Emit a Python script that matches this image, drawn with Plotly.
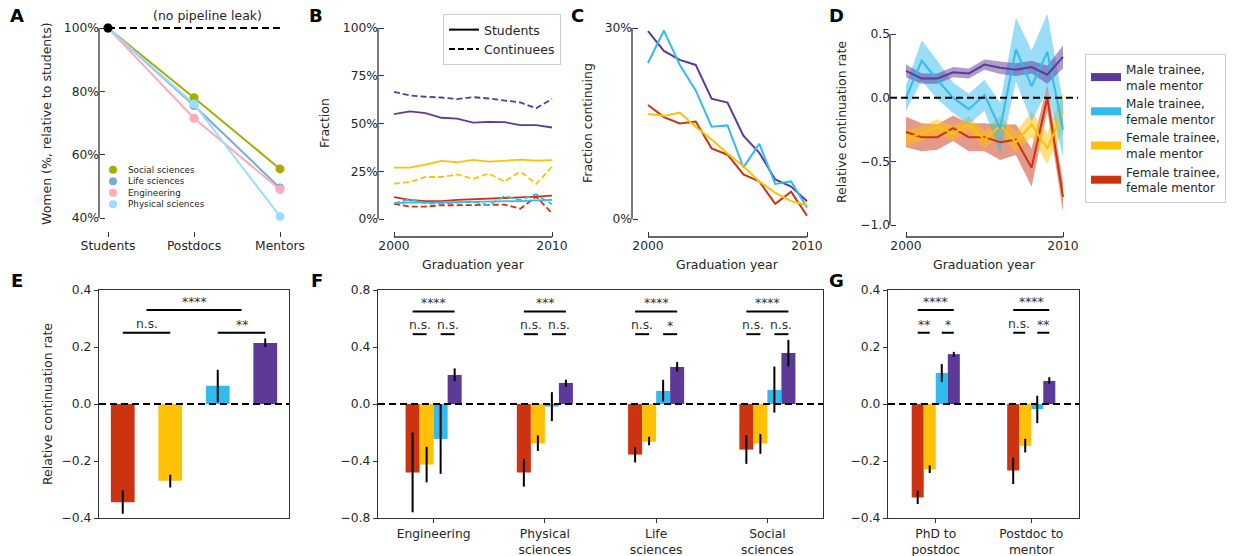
import plotly.graph_objects as go

W, H = 1233, 556
FONT = "DejaVu Sans"
TXT = "#262626"
SPINE = "#333333"
PURPLE, BLUE, YELLOW, RED = "#5e3a98", "#33bbee", "#ffc107", "#cc3311"
BAND = {PURPLE: "rgba(94,58,152,0.5)", BLUE: "rgba(51,187,238,0.5)",
        YELLOW: "rgba(255,193,7,0.5)", RED: "rgba(204,51,17,0.5)"}

# ---------------- Panel A data ----------------
stages = ["Students", "Postdocs", "Mentors"]
fields = ["Social sciences", "Life sciences", "Engineering", "Physical sciences"]
field_colors = ["#aaaa00", "#77aadd", "#ffaabb", "#99ddff"]
women_social = [100.0, 78.0, 55.5]
women_life = [100.0, 75.5, 49.5]
women_engineering = [100.0, 71.5, 49.0]
women_physical = [100.0, 76.0, 40.5]

# ---------------- Panel B data ----------------
years = [2000, 2001, 2002, 2003, 2004, 2005, 2006, 2007, 2008, 2009, 2010]
students_mm = [54.9, 56.3, 55.4, 53.0, 52.6, 50.5, 50.9, 50.7, 49.1, 49.1, 47.9]
continuees_mm = [66.6, 64.7, 64.0, 63.6, 62.8, 63.8, 63.1, 62.1, 61.0, 58.0, 62.8]
students_fm = [26.9, 26.9, 28.5, 30.4, 29.7, 31.0, 30.0, 30.4, 31.1, 30.6, 30.8]
continuees_fm = [18.5, 19.4, 22.0, 22.0, 23.4, 21.0, 23.8, 19.6, 24.8, 18.4, 27.4]
students_ff = [11.4, 10.0, 9.3, 9.4, 10.0, 10.3, 10.7, 10.8, 11.4, 11.7, 12.2]
continuees_ff = [7.9, 6.5, 6.5, 7.2, 7.2, 7.2, 7.2, 7.5, 5.4, 11.7, 3.0]
students_mf = [8.2, 8.7, 8.6, 8.7, 8.9, 9.1, 9.3, 9.3, 9.4, 9.8, 10.0]
continuees_mf = [8.2, 10.3, 8.2, 8.2, 8.6, 9.1, 7.3, 12.0, 10.0, 13.0, 7.7]

# ---------------- Panel C data ----------------
continuing_mm = [29.5, 26.4, 25.0, 24.2, 18.9, 18.3, 13.1, 10.4, 6.2, 5.1, 2.8]
continuing_mf = [24.5, 29.6, 24.2, 20.2, 14.5, 14.7, 8.1, 11.8, 5.5, 5.9, 1.8]
continuing_fm = [16.5, 16.2, 16.7, 14.5, 12.5, 10.3, 8.3, 5.9, 4.1, 2.8, 2.2]
continuing_ff = [17.9, 16.0, 15.0, 15.3, 11.1, 10.1, 7.0, 5.9, 2.4, 4.3, 0.5]

# ---------------- Panel D data ----------------
rel_mm = [0.21, 0.15, 0.15, 0.20, 0.19, 0.26, 0.235, 0.22, 0.24, 0.18, 0.32]
rel_mm_hw = [0.05, 0.04, 0.04, 0.04, 0.04, 0.04, 0.05, 0.05, 0.05, 0.07, 0.09]
rel_mf = [0.0, 0.29, 0.14, 0.0, -0.09, 0.02, -0.24, 0.38, 0.09, 0.36, -0.25]
rel_mf_hw = [0.10, 0.16, 0.15, 0.12, 0.12, 0.12, 0.20, 0.25, 0.28, 0.30, 0.22]
rel_fm = [-0.32, -0.28, -0.23, -0.28, -0.21, -0.33, -0.22, -0.35, -0.21, -0.40, -0.11]
rel_fm_hw = [0.06, 0.06, 0.06, 0.06, 0.06, 0.07, 0.08, 0.08, 0.10, 0.12, 0.15]
rel_ff = [-0.27, -0.31, -0.31, -0.24, -0.31, -0.31, -0.35, -0.33, -0.55, 0.0, -0.78]
rel_ff_hw = [0.12, 0.11, 0.10, 0.10, 0.11, 0.11, 0.14, 0.12, 0.15, 0.10, 0.12]
group_names = ["Male trainee,<br>male mentor", "Male trainee,<br>female mentor",
               "Female trainee,<br>male mentor", "Female trainee,<br>female mentor"]

# ---------------- Panel E data (FF, FM, MF, MM) ----------------
bar_colors = [RED, YELLOW, BLUE, PURPLE]
overall_val = [-0.345, -0.269, 0.064, 0.214]
overall_lo = [-0.385, -0.293, 0.006, 0.200]
overall_hi = [-0.303, -0.248, 0.120, 0.230]

# ---------------- Panel F data ----------------
disciplines = ["Engineering", "Physical<br>sciences", "Life<br>sciences", "Social<br>sciences"]
disc_ff = [-0.48, -0.48, -0.355, -0.32]
disc_ff_lo = [-0.76, -0.58, -0.41, -0.42]
disc_ff_hi = [-0.20, -0.385, -0.305, -0.22]
disc_fm = [-0.425, -0.277, -0.265, -0.277]
disc_fm_lo = [-0.55, -0.33, -0.29, -0.35]
disc_fm_hi = [-0.30, -0.22, -0.23, -0.21]
disc_mf = [-0.245, -0.018, 0.092, 0.099]
disc_mf_lo = [-0.49, -0.12, 0.018, -0.06]
disc_mf_hi = [0.0, 0.083, 0.17, 0.263]
disc_mm = [0.204, 0.148, 0.26, 0.358]
disc_mm_lo = [0.16, 0.12, 0.228, 0.263]
disc_mm_hi = [0.25, 0.17, 0.295, 0.45]
disc_sig_top = ["****", "***", "****", "****"]
disc_sig_left = ["n.s.", "n.s.", "n.s.", "n.s."]
disc_sig_right = ["n.s.", "n.s.", "*", "n.s."]

# ---------------- Panel G data ----------------
transitions = ["PhD to<br>postdoc", "Postdoc to<br>mentor"]
tr_ff = [-0.328, -0.233]
tr_ff_lo = [-0.351, -0.281]
tr_ff_hi = [-0.304, -0.189]
tr_fm = [-0.23, -0.147]
tr_fm_lo = [-0.242, -0.17]
tr_fm_hi = [-0.215, -0.122]
tr_mf = [0.109, -0.018]
tr_mf_lo = [0.077, -0.067]
tr_mf_hi = [0.14, 0.029]
tr_mm = [0.175, 0.081]
tr_mm_lo = [0.166, 0.071]
tr_mm_hi = [0.183, 0.094]
tr_sig_top = ["****", "****"]
tr_sig_left = ["**", "n.s."]
tr_sig_right = ["*", "**"]


# ---------------- helpers ----------------
def dom_x(a, b):
    return [a / W, b / W]


def dom_y(top, bottom):
    return [1 - bottom / H, 1 - top / H]


def lin_range(v1, p1, v2, p2, lo, hi):
    k = (v2 - v1) / (p2 - p1)
    return [v1 + (lo - p1) * k, v1 + (hi - p1) * k]


fig = go.Figure()
shapes = []
annotations = []
TICKFONT = dict(family=FONT, size=12.3, color=TXT)


def ann(x, y, text, size=12.5, angle=0, bold=False, xanchor="center", color=TXT, **kw):
    t = f"<b>{text}</b>" if bold else text
    annotations.append(dict(x=x / W, y=1 - y / H, xref="paper", yref="paper", text=t,
                            showarrow=False, textangle=angle, xanchor=xanchor, yanchor="middle",
                            font=dict(family=FONT, size=size, color=color), **kw))


# ---------------- Panel A ----------------
for name, col, vals in zip(fields, field_colors,
                           [women_social, women_life, women_engineering, women_physical]):
    fig.add_trace(go.Scatter(x=[0, 1, 2], y=vals, mode="lines+markers", name=name,
                             line=dict(color=col, width=2), marker=dict(color=col, size=9),
                             xaxis="x", yaxis="y", showlegend=False, cliponaxis=False))
fig.add_trace(go.Scatter(x=[0, 2], y=[100, 100], mode="lines", showlegend=False,
                         line=dict(color="black", width=2, dash="7px,4px"), xaxis="x", yaxis="y"))
fig.add_trace(go.Scatter(x=[0], y=[100], mode="markers", showlegend=False,
                         marker=dict(color="black", size=9), xaxis="x", yaxis="y", cliponaxis=False))

# ---------------- Panel B ----------------
b_series = [(students_mm, continuees_mm, PURPLE), (students_fm, continuees_fm, YELLOW),
            (students_ff, continuees_ff, RED), (students_mf, continuees_mf, BLUE)]
for s, c, col in b_series:
    fig.add_trace(go.Scatter(x=years, y=s, mode="lines", line=dict(color=col, width=1.8),
                             xaxis="x2", yaxis="y2", showlegend=False))
    fig.add_trace(go.Scatter(x=years, y=c, mode="lines", line=dict(color=col, width=1.8, dash="6px,3px"),
                             xaxis="x2", yaxis="y2", showlegend=False))
fig.add_trace(go.Scatter(x=[None], y=[None], mode="lines", name="Students",
                         line=dict(color="black", width=2), xaxis="x2", yaxis="y2",
                         showlegend=True, legend="legend"))
fig.add_trace(go.Scatter(x=[None], y=[None], mode="lines", name="Continuees",
                         line=dict(color="black", width=2, dash="6px,3px"), xaxis="x2", yaxis="y2",
                         showlegend=True, legend="legend"))

# ---------------- Panel C ----------------
for vals, col in [(continuing_mm, PURPLE), (continuing_mf, BLUE), (continuing_ff, RED), (continuing_fm, YELLOW)]:
    fig.add_trace(go.Scatter(x=years, y=vals, mode="lines", line=dict(color=col, width=2),
                             xaxis="x3", yaxis="y3", showlegend=False))

# ---------------- Panel D ----------------
d_series = [(rel_ff, rel_ff_hw, RED), (rel_fm, rel_fm_hw, YELLOW),
            (rel_mf, rel_mf_hw, BLUE), (rel_mm, rel_mm_hw, PURPLE)]
for vals, hw, col in d_series:
    upper = [v + h for v, h in zip(vals, hw)]
    lower = [v - h for v, h in zip(vals, hw)]
    fig.add_trace(go.Scatter(x=years + years[::-1], y=upper + lower[::-1], mode="lines",
                             fill="toself", fillcolor=BAND[col], line=dict(width=0),
                             xaxis="x4", yaxis="y4", showlegend=False, hoverinfo="skip"))
for vals, hw, col in d_series:
    fig.add_trace(go.Scatter(x=years, y=vals, mode="lines", line=dict(color=col, width=2),
                             xaxis="x4", yaxis="y4", showlegend=False))
for name, col in zip(group_names, [PURPLE, BLUE, YELLOW, RED]):
    fig.add_trace(go.Scatter(x=[None], y=[None], mode="lines", name=name,
                             line=dict(color=col, width=8), xaxis="x4", yaxis="y4",
                             showlegend=True, legend="legend2"))

# ---------------- Panel E ----------------
fig.add_trace(go.Bar(x=[0, 1, 2, 3], y=overall_val, width=0.5, marker=dict(color=bar_colors, line=dict(width=0)),
                     error_y=dict(type="data", symmetric=False,
                                  array=[h - v for h, v in zip(overall_hi, overall_val)],
                                  arrayminus=[v - l for v, l in zip(overall_val, overall_lo)],
                                  color="black", thickness=2, width=0),
                     xaxis="x5", yaxis="y5", showlegend=False))

BW = 0.126


def grouped(xa, ya, series):
    n = len(series[0][0])
    for i, (vals, lo, hi, col) in enumerate(series):
        fig.add_trace(go.Bar(x=list(range(n)), y=vals, width=BW, offset=-2 * BW + i * BW,
                             marker=dict(color=col, line=dict(width=0)),
                             error_y=dict(type="data", symmetric=False,
                                          array=[h - v for h, v in zip(hi, vals)],
                                          arrayminus=[v - l for v, l in zip(vals, lo)],
                                          color="black", thickness=2, width=0),
                             xaxis=xa, yaxis=ya, showlegend=False))


grouped("x6", "y6", [(disc_ff, disc_ff_lo, disc_ff_hi, RED), (disc_fm, disc_fm_lo, disc_fm_hi, YELLOW),
                     (disc_mf, disc_mf_lo, disc_mf_hi, BLUE), (disc_mm, disc_mm_lo, disc_mm_hi, PURPLE)])
grouped("x7", "y7", [(tr_ff, tr_ff_lo, tr_ff_hi, RED), (tr_fm, tr_fm_lo, tr_fm_hi, YELLOW),
                     (tr_mf, tr_mf_lo, tr_mf_hi, BLUE), (tr_mm, tr_mm_lo, tr_mm_hi, PURPLE)])


# ---------------- significance brackets ----------------
def bracket(xa, ya, x0, x1, y, label):
    shapes.append(dict(type="line", xref=xa, yref=ya, x0=x0, x1=x1, y0=y, y1=y,
                       line=dict(color="black", width=2), layer="above"))
    shift = 9 if "n" in label else 8
    annotations.append(dict(x=(x0 + x1) / 2, y=y, xref=xa, yref=ya, text=label, showarrow=False,
                            yshift=shift, yanchor="middle",
                            font=dict(family=FONT, size=12.3, color="#333333")))


bracket("x5", "y5", 0.5, 2.5, 0.33, "****")
bracket("x5", "y5", 0, 1, 0.25, "n.s.")
bracket("x5", "y5", 2, 3, 0.25, "**")
for g in range(4):
    c = [g + (i - 1.5) * BW for i in range(4)]
    bracket("x6", "y6", c[0], c[3], 0.65, disc_sig_top[g])
    bracket("x6", "y6", c[0], c[1], 0.49, disc_sig_left[g])
    bracket("x6", "y6", c[2], c[3], 0.49, disc_sig_right[g])
for g in range(2):
    c = [g + (i - 1.5) * BW for i in range(4)]
    bracket("x7", "y7", c[0], c[3], 0.33, tr_sig_top[g])
    bracket("x7", "y7", c[0], c[1], 0.25, tr_sig_left[g])
    bracket("x7", "y7", c[2], c[3], 0.25, tr_sig_right[g])

# ---------------- zero / reference lines ----------------
for xa, ya in [("x4", "y4"), ("x5", "y5"), ("x6", "y6"), ("x7", "y7")]:
    shapes.append(dict(type="line", xref=f"{xa} domain", yref=ya, x0=0, x1=1, y0=0, y1=0,
                       line=dict(color="black", width=2, dash="7px,4px"), layer="above"))

# ---------------- spines for A-D (trimmed, offset) ----------------
XSPINE_Y = 237
spine_defs = [  # (xaxis, yaxis, y-spine px, ylow, yhigh, xlow, xhigh, draw x spine)
    ("x", "y", 99, 40, 100, 0, 2, False),
    ("x2", "y2", 378, 0, 100, 2000, 2010, True),
    ("x3", "y3", 632, 0, 30, 2000, 2010, True),
    ("x4", "y4", 890, -1.0, 0.5, 2000, 2010, True),
]
for xa, ya, sx, ylo, yhi, xlo, xhi, dx in spine_defs:
    shapes.append(dict(type="line", xref="paper", yref=ya, x0=sx / W, x1=sx / W, y0=ylo, y1=yhi,
                       line=dict(color=SPINE, width=1.3), layer="above"))
    if dx:
        shapes.append(dict(type="line", xref=xa, yref="paper", x0=xlo, x1=xhi,
                           y0=1 - XSPINE_Y / H, y1=1 - XSPINE_Y / H,
                           line=dict(color=SPINE, width=1.3), layer="above"))


# ---------------- axes ----------------
def free_x(dom, rng, tickvals, ticktext):
    return dict(domain=dom, range=rng, anchor="free", position=1 - XSPINE_Y / H, showline=False,
                showgrid=False, zeroline=False, ticks="inside", ticklen=5, tickwidth=1.3,
                tickcolor=SPINE, tickvals=tickvals, ticktext=ticktext, tickfont=TICKFONT,
                automargin=False)


def free_y(dom, rng, pos_px, tickvals, ticktext):
    return dict(domain=dom, range=rng, anchor="free", position=pos_px / W, showline=False,
                showgrid=False, zeroline=False, ticks="inside", ticklen=5, tickwidth=1.3,
                tickcolor=SPINE, tickvals=tickvals, ticktext=ticktext, tickfont=TICKFONT,
                automargin=False)


def box_axis(dom, rng, anchor, tickvals, ticktext, ticks="outside"):
    return dict(domain=dom, range=rng, anchor=anchor, showline=True, mirror=True, linecolor=SPINE,
                linewidth=1.3, showgrid=False, zeroline=False, ticks=ticks, ticklen=4, tickwidth=1.3,
                tickcolor=SPINE, tickvals=tickvals, ticktext=ticktext, tickfont=TICKFONT,
                automargin=False)


MINUS = "\u2212"

layout = dict(
    template="none",
    width=W, height=H, margin=dict(l=0, r=0, t=0, b=0, pad=0, autoexpand=False),
    paper_bgcolor="white", plot_bgcolor="rgba(0,0,0,0)",
    font=dict(family=FONT, color=TXT),
    xaxis=free_x(dom_x(99, 290), lin_range(0, 108, 2, 280, 99, 290), [0, 1, 2], stages),
    yaxis=free_y(dom_y(18, 228), lin_range(100, 28, 40, 218, 228, 18), 99,
                 [40, 60, 80, 100], ["40%", "60%", "80%", "100%"]),
    xaxis2=free_x(dom_x(378, 565), lin_range(2000, 394, 2010, 552, 378, 565), [2000, 2010], ["2000", "2010"]),
    yaxis2=free_y(dom_y(18, 228), lin_range(100, 28, 0, 219, 228, 18), 378,
                  [0, 25, 50, 75, 100], ["0%", "25%", "50%", "75%", "100%"]),
    xaxis3=free_x(dom_x(632, 815), lin_range(2000, 648, 2010, 807, 632, 815), [2000, 2010], ["2000", "2010"]),
    yaxis3=free_y(dom_y(18, 228), lin_range(30, 28, 0, 219, 228, 18), 632, [0, 30], ["0%", "30%"]),
    xaxis4=free_x(dom_x(890, 1078), lin_range(2000, 906, 2010, 1063, 890, 1078), [2000, 2010], ["2000", "2010"]),
    yaxis4=free_y(dom_y(8, 230), lin_range(0.5, 34, -1.0, 225, 230, 8), 890,
                  [-1.0, -0.5, 0.0, 0.5], [MINUS + "1.0", MINUS + "0.5", "0.0", "0.5"]),
    xaxis5=box_axis(dom_x(99, 289), [-0.5, 3.5], "y5", [], [], ticks=""),
    yaxis5=box_axis(dom_y(290, 518), [-0.4, 0.4], "x5", [-0.4, -0.2, 0.0, 0.2, 0.4],
                    [MINUS + "0.4", MINUS + "0.2", "0.0", "0.2", "0.4"]),
    xaxis6=box_axis(dom_x(378, 823), [-0.5, 3.5], "y6", [0, 1, 2, 3], disciplines),
    yaxis6=box_axis(dom_y(290, 518), [-0.8, 0.8], "x6", [-0.8, -0.4, 0.0, 0.4, 0.8],
                    [MINUS + "0.8", MINUS + "0.4", "0.0", "0.4", "0.8"]),
    xaxis7=box_axis(dom_x(888, 1079), [-0.5, 1.5], "y7", [0, 1], transitions),
    yaxis7=box_axis(dom_y(290, 518), [-0.4, 0.4], "x7", [-0.4, -0.2, 0.0, 0.2, 0.4],
                    [MINUS + "0.4", MINUS + "0.2", "0.0", "0.2", "0.4"]),
    barmode="overlay",
    legend=dict(x=443 / W, y=1 - 14 / H, xanchor="left", yanchor="top", bordercolor="#cccccc",
                borderwidth=1, bgcolor="white", font=dict(family=FONT, size=12.5, color=TXT),
                itemwidth=30, tracegroupgap=0),
    legend2=dict(x=1085 / W, y=1 - 54 / H, xanchor="left", yanchor="top", bordercolor="#cccccc",
                 borderwidth=1, bgcolor="white", font=dict(family=FONT, size=12, color=TXT),
                 itemwidth=30, tracegroupgap=0),
)

# panel letters
for letter, x, y in [("A", 17, 15), ("B", 316, 15), ("C", 577, 15), ("D", 837, 15),
                     ("E", 17, 280), ("F", 317, 280), ("G", 837, 280)]:
    ann(x, y, letter, size=18, bold=True, color="black")

# axis titles
ann(47, 124, "Women (%, relative to students)", angle=-90)
ann(325, 123, "Fraction", angle=-90)
ann(588, 123, "Fraction continuing", angle=-90)
ann(842, 122, "Relative continuation rate", angle=-90)
ann(47, 404, "Relative continuation rate", angle=-90)
for xc in [473, 727, 984]:
    ann(xc, 265, "Graduation year")
ann(207, 15, "(no pipeline leak)")

# Panel A legend (compact): circle swatches + one text block
LEG_FS = 8.8
row_h = LEG_FS * 1.3
row0 = 187 - 1.5 * row_h
for i, col in enumerate(field_colors):
    cy = row0 + i * row_h
    shapes.append(dict(type="circle", xref="paper", yref="paper",
                       x0=(113 - 4) / W, x1=(113 + 4) / W, y0=1 - (cy + 4) / H, y1=1 - (cy - 4) / H,
                       fillcolor=col, line=dict(width=0), layer="above"))
annotations.append(dict(x=126 / W, y=1 - 187 / H, xref="paper", yref="paper",
                        text="<br>".join(fields), showarrow=False, xanchor="left", yanchor="middle",
                        align="left", font=dict(family=FONT, size=LEG_FS, color=TXT)))

layout["shapes"] = shapes
layout["annotations"] = annotations
fig.update_layout(**layout)
fig.write_html("out.html")
